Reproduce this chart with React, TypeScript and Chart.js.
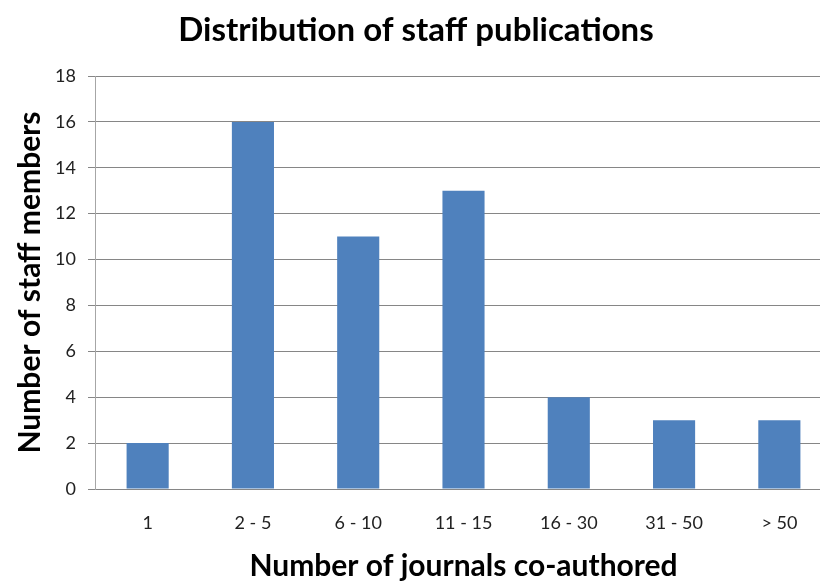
import React, { useEffect, useRef } from "react";
import { Chart, registerables } from "chart.js";

Chart.register(...registerables);

const categories = ["1", "2 - 5", "6 - 10", "11 - 15", "16 - 30", "31 - 50", "> 50"];
const staffCounts = [2, 16, 11, 13, 4, 3, 3];
const yTicks = [0, 2, 4, 6, 8, 10, 12, 14, 16, 18];

const FONT = "Lato, 'Open Sans', sans-serif";

export default function App() {
  const ref = useRef<HTMLCanvasElement | null>(null);
  useEffect(() => {
    document.body.style.margin = "0";
    document.body.style.overflow = "hidden";
    const canvas = ref.current;
    if (!canvas) return;
    const chart = new Chart(canvas, {
      type: "bar",
      data: {
        labels: categories,
        datasets: [
          {
            data: staffCounts,
            backgroundColor: "#4F81BD",
            borderWidth: 0,
            barPercentage: 0.4,
            categoryPercentage: 1,
          },
        ],
      },
      options: {
        responsive: false,
        animation: false,
        devicePixelRatio: 1,
        layout: { padding: 0 },
        plugins: {
          legend: { display: false },
          tooltip: { enabled: false },
          title: {
            display: true,
            text: "Distribution of staff publications",
            color: "#000",
            font: { family: FONT, size: 33, weight: "bold", lineHeight: 1.2 },
            padding: { top: 10.2, bottom: 26.2 },
          },
        },
        scales: {
          x: {
            afterFit: (axis: any) => {
              axis.height = 95;
            },
            grid: { display: false, drawTicks: false },
            border: { display: true, color: "#868686", width: 1 },
            ticks: {
              color: "#222",
              font: { family: FONT, size: 18 },
              padding: 23,
              maxRotation: 0,
            },
            title: {
              display: true,
              text: "Number of journals co-authored",
              color: "#000",
              font: { family: FONT, size: 30, weight: "bold", lineHeight: 1.2 },
              padding: { top: 0, bottom: 0 },
            },
          },
          y: {
            min: 0,
            max: 18,
            afterFit: (axis: any) => {
              axis.width = 95;
            },
            afterBuildTicks: (axis: any) => {
              axis.ticks = yTicks.map((v) => ({ value: v }));
            },
            grid: { color: "#868686", tickLength: 7, lineWidth: 1 },
            border: { display: true, color: "#A6A6A6", width: 1 },
            ticks: {
              color: "#222",
              font: { family: FONT, size: 18 },
              padding: 12,
            },
            title: {
              display: true,
              text: "Number of staff members",
              color: "#000",
              font: { family: FONT, size: 30, weight: "bold", lineHeight: 1.2 },
              padding: { top: 12, bottom: 0 },
            },
          },
        },
      },
    });
    return () => chart.destroy();
  }, []);
  return (
    <div style={{ position: "fixed", left: 0, top: 0, width: 832, height: 584, background: "#fff" }}>
      <canvas ref={ref} width={832} height={584} style={{ display: "block" }} />
    </div>
  );
}
